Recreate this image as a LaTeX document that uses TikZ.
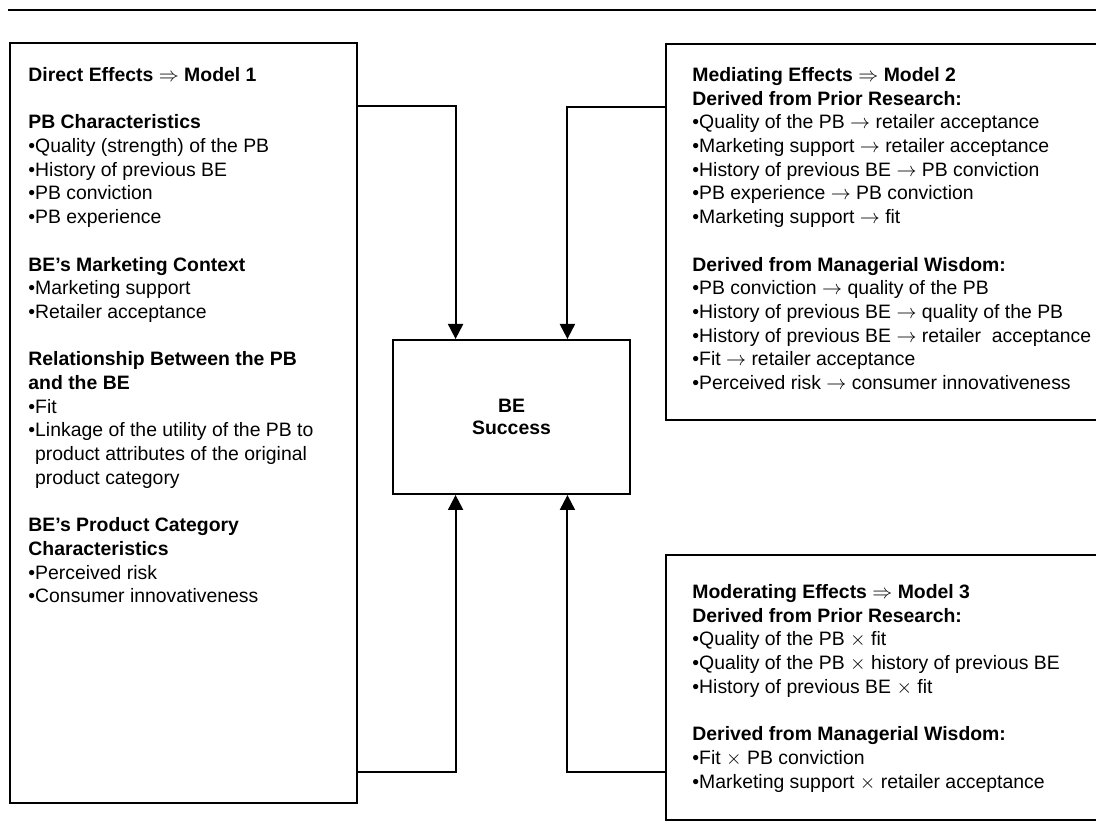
\documentclass[tikz,border=0pt]{standalone}
\usepackage{fontspec}
\setmainfont{Liberation Sans}
\usetikzlibrary{arrows.meta,calc,fit}
\begin{document}
\begin{tikzpicture}[x=0.5pt,y=-0.5pt,
  frame/.style={draw, line width=1pt, inner sep=0pt},
  txt/.style={anchor=north west, align=left, inner sep=0pt,
    font=\fontsize{9.7}{11.85}\selectfont},
  link/.style={line width=1pt},
  arr/.style={link, -{Triangle[width=7.5pt,length=7.5pt]}}
]
\useasboundingbox (0,0) rectangle (1096,838);
\clip (0,0) rectangle (1096,838);

% rule across the top of the page
\draw[line width=1.3pt] (8,10) -- (1120,10);

% frames
\node[frame, fit={(10,43) (357,803)}] (direct) {};
\node[frame, fit={(666,44) (1130,420)}] (mediate) {};
\node[frame, fit={(666,555) (1130,820)}] (moderate) {};
\node[frame, fit={(393,340) (630,494)}] (success) {};

% contents of the frames
\node[txt] (directtxt) at (28,67) {%
\textbf{Direct Effects $\Rightarrow$ Model 1}\\[11.85pt]
\textbf{PB Characteristics}\\
•Quality (strength) of the PB\\
•History of previous BE\\
•PB conviction\\
•PB experience\\[11.85pt]
\textbf{BE’s Marketing Context}\\
•Marketing support\\
•Retailer acceptance\\[11.85pt]
\textbf{Relationship Between the PB}\\
\textbf{and the BE}\\
•Fit\\
•Linkage of the utility of the PB to\\
\phantom{•}product attributes of the original\\
\phantom{•}product category\\[11.85pt]
\textbf{BE’s Product Category}\\
\textbf{Characteristics}\\
•Perceived risk\\
•Consumer innovativeness};

\node[txt] (mediatetxt) at (692,67) {%
\textbf{Mediating Effects $\Rightarrow$ Model 2}\\
\textbf{Derived from Prior Research:}\\
•Quality of the PB $\rightarrow$ retailer acceptance\\
•Marketing support $\rightarrow$ retailer acceptance\\
•History of previous BE $\rightarrow$ PB conviction\\
•PB experience $\rightarrow$ PB conviction\\
•Marketing support $\rightarrow$ fit\\[11.85pt]
\textbf{Derived from Managerial Wisdom:}\\
•PB conviction $\rightarrow$ quality of the PB\\
•History of previous BE $\rightarrow$ quality of the PB\\
•History of previous BE $\rightarrow$ retailer~ acceptance\\
•Fit $\rightarrow$ retailer acceptance\\
•Perceived risk $\rightarrow$ consumer innovativeness};

\node[txt] (moderatetxt) at (692,584) {%
\textbf{Moderating Effects $\Rightarrow$ Model 3}\\
\textbf{Derived from Prior Research:}\\
•Quality of the PB $\times$ fit\\
•Quality of the PB $\times$ history of previous BE\\
•History of previous BE $\times$ fit\\[11.85pt]
\textbf{Derived from Managerial Wisdom:}\\
•Fit $\times$ PB conviction\\
•Marketing support $\times$ retailer acceptance};

\node[align=center, inner sep=0pt, font=\fontsize{9.7}{11}\bfseries\selectfont]
  (successtxt) at (success.center) {BE\\Success};

% connectors into the outcome box
\draw[arr] (direct.east |- 0,106) -| ($(success.north west)!0.266!(success.north east)$);
\draw[arr] (mediate.west |- 0,107) -| ($(success.north west)!0.734!(success.north east)$);
\draw[arr] (direct.east |- 0,772) -| ($(success.south west)!0.266!(success.south east)$);
\draw[arr] (moderate.west |- 0,772) -| ($(success.south west)!0.734!(success.south east)$);
\end{tikzpicture}
\end{document}
